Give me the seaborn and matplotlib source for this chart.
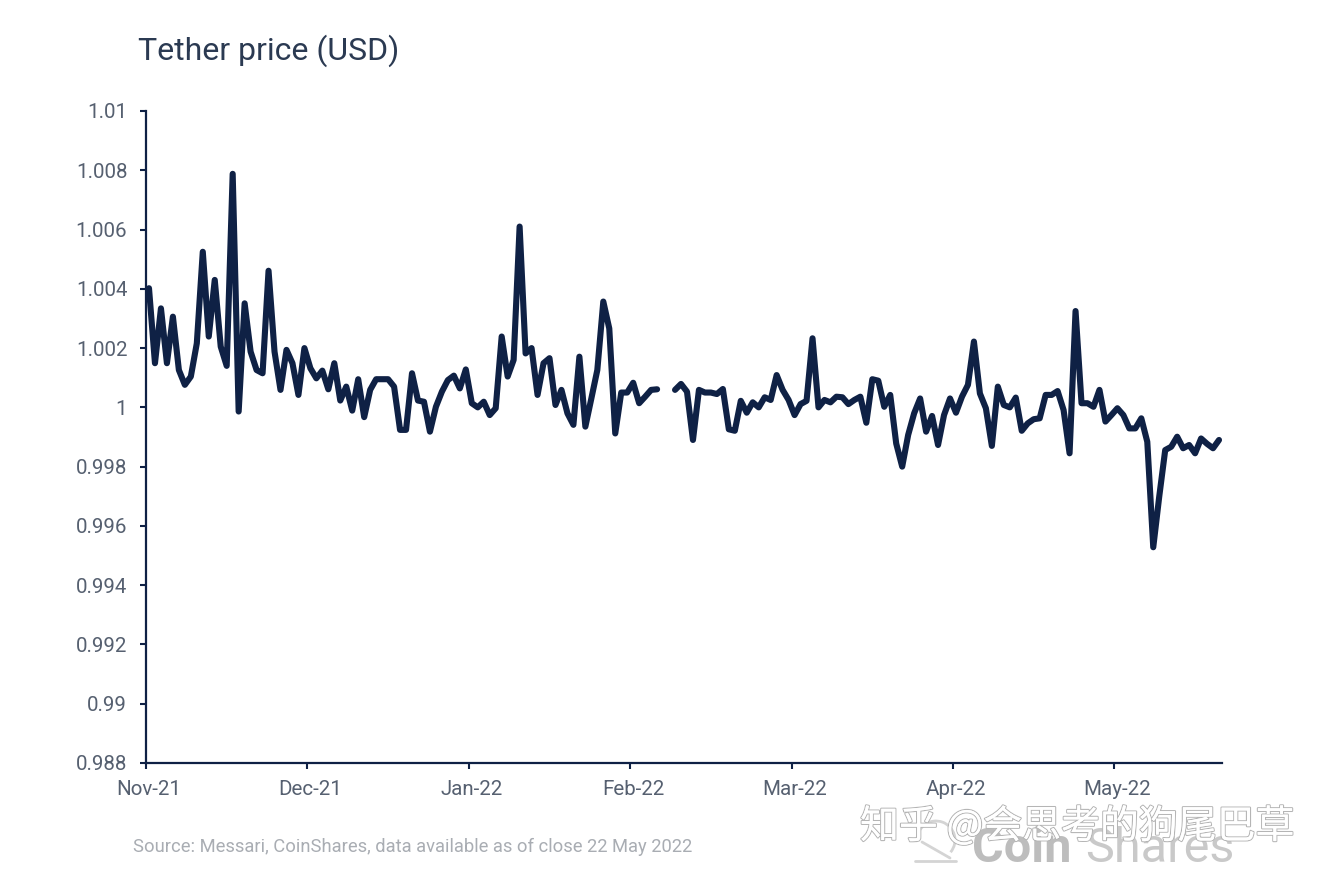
import matplotlib
matplotlib.use("Agg")
import matplotlib.pyplot as plt
import matplotlib.patheffects as pe
from matplotlib.patches import Arc
from matplotlib.transforms import ScaledTranslation
import numpy as np
import pandas as pd
import seaborn as sns

NAVY = "#0f2145"

# prices, one per trading point, the hole in Feb-22 is nan
price_nov = [1.00402, 1.00149, 1.00334, 1.00149, 1.00306, 1.00126, 1.00076, 1.00104, 1.00216, 1.00525,
             1.00239, 1.00430, 1.00205, 1.00140, 1.00788, 0.99986, 1.00351, 1.00188, 1.00126, 1.00115,
             1.00461, 1.00188, 1.00059, 1.00194, 1.00149, 1.00042, 1.00200]
price_dec = [1.00132, 1.00098, 1.00124, 1.00061, 1.00149, 1.00023, 1.00070, 0.99989, 1.00095, 0.99967,
             1.00059, 1.00095, 1.00095, 1.00095, 1.00070, 0.99924, 0.99924, 1.00115, 1.00023, 1.00019,
             0.99918, 1.00002, 1.00053, 1.00092, 1.00107, 1.00064, 1.00128]
price_jan = [1.00014, 1.00000, 1.00019, 0.99974, 0.99997, 1.00239, 1.00104, 1.00160, 1.00610, 1.00182,
             1.00200, 1.00042, 1.00149, 1.00166, 1.00008, 1.00059, 0.99980, 0.99941, 1.00171, 0.99935,
             1.00030, 1.00126, 1.00357, 1.00266, 0.99912, 1.00050, 1.00050]
price_feb = [1.00083, 1.00014, 1.00036, 1.00059, 1.00061, np.nan, np.nan, 1.00059, 1.00079, 1.00053,
             0.99890, 1.00059, 1.00050, 1.00050, 1.00045, 1.00062, 0.99926, 0.99921, 1.00022, 0.99982,
             1.00017, 1.00000, 1.00034, 1.00025, 1.00109, 1.00059, 1.00025]
price_mar = [0.99974, 1.00011, 1.00022, 1.00233, 1.00000, 1.00025, 1.00017, 1.00036, 1.00034, 1.00011,
             1.00025, 1.00036, 0.99948, 1.00095, 1.00090, 1.00002, 1.00042, 0.99878, 0.99800, 0.99907,
             0.99980, 1.00030, 0.99918, 0.99971, 0.99873, 0.99974, 1.00030]
price_apr = [0.99982, 1.00036, 1.00076, 1.00222, 1.00047, 0.99997, 0.99870, 1.00070, 1.00008, 1.00000,
             1.00033, 0.99921, 0.99946, 0.99960, 0.99963, 1.00042, 1.00042, 1.00055, 0.99991, 0.99845,
             1.00325, 1.00014, 1.00014, 1.00002, 1.00059, 0.99952, 0.99974]
price_may = [0.99997, 0.99974, 0.99929, 0.99929, 0.99963, 0.99884, 0.99528, 0.99699, 0.99856, 0.99867,
             0.99901, 0.99862, 0.99873, 0.99845, 0.99895, 0.99877, 0.99862, 0.99890]

month_labels = ["Nov-21", "Dec-21", "Jan-22", "Feb-22", "Mar-22", "Apr-22", "May-22"]
y_ticks = [0.988, 0.99, 0.992, 0.994, 0.996, 0.998, 1, 1.002, 1.004, 1.006, 1.008, 1.01]
y_labels = ["0.988", "0.99", "0.992", "0.994", "0.996", "0.998", "1", "1.002", "1.004", "1.006", "1.008", "1.01"]

price = price_nov + price_dec + price_jan + price_feb + price_mar + price_apr + price_may
df = pd.DataFrame({"point": np.arange(len(price)), "price": price})

sns.set_theme(style="ticks")
plt.rcParams["font.family"] = ["Roboto", "DejaVu Sans"]

W, H = 1328, 882
fig = plt.figure(figsize=(W / 100, H / 100), dpi=100, facecolor="white")
ax = fig.add_axes([146 / W, 1 - 763 / H, (1222 - 146) / W, (763 - 111) / H])

# two calls so the gap stays open
gap = df["price"].isna()
first_gap = df.index[gap][0]
for part in [df[df["point"] < first_gap], df[(df["point"] > first_gap) & ~gap]]:
    sns.lineplot(data=part, x="point", y="price", ax=ax, color=NAVY, linewidth=4.4,
                 estimator=None, solid_joinstyle="round", solid_capstyle="round")

ax.set_xlim(-0.5, len(price) - 0.5)
ax.set_ylim(0.988, 1.01)
ax.set_xticks([-0.5 + 27 * i for i in range(len(month_labels))])
ax.set_xticklabels(month_labels)
ax.set_yticks(y_ticks)
ax.set_yticklabels(y_labels)
ax.set_xlabel("")
ax.set_ylabel("")
sns.despine(ax=ax)
for side in ["left", "bottom"]:
    ax.spines[side].set_color(NAVY)
    ax.spines[side].set_linewidth(1.6)
ax.tick_params(axis="both", color=NAVY, width=1.5, length=4.5, labelsize=14.8, labelcolor="#566070")
ax.tick_params(axis="x", pad=8)
ax.tick_params(axis="y", pad=9)
for lab in ax.get_xticklabels():
    lab.set_transform(lab.get_transform() + ScaledTranslation(3 / 100, 0, fig.dpi_scale_trans))

fig.text(138 / W, 1 - 51 / H, "Tether price (USD)", fontsize=23, color="#2b3a52", va="center", ha="left")
fig.text(133 / W, 1 - 847 / H, "Source: Messari, CoinShares, data available as of close 22 May 2022",
         fontsize=13.2, color="#a9adb3", va="center", ha="left")

# CoinShares mark, faint, under the zhihu watermark
bg = fig.add_axes([0, 0, 1, 1], zorder=-1)
bg.set_xlim(0, W)
bg.set_ylim(H, 0)
bg.axis("off")
bg.add_patch(Arc((936, 840), 38, 38, theta1=180, theta2=400, color="#d4d4d4", lw=2))
bg.plot([915, 956], [861, 861], color="#d4d4d4", lw=2)
bg.plot([922, 950], [842, 858], color="#d4d4d4", lw=2)
bg.text(972, 849, "Coin", fontsize=35, fontweight="bold", color="#bdbdbd", va="center", ha="left")
bg.text(1085, 849, "Shares", fontsize=35, color="#c9c9c9", va="center", ha="left")

wm = fig.text(860 / W, 1 - 827 / H, "知乎 @会思考的狗尾巴草", fontsize=28, color="white", va="center", ha="left",
              family=["Noto Sans CJK SC", "DejaVu Sans"])
wm.set_path_effects([pe.withStroke(linewidth=1.6, foreground="#b5b5b5"), pe.Normal()])

fig.savefig("out.png", dpi=100)
